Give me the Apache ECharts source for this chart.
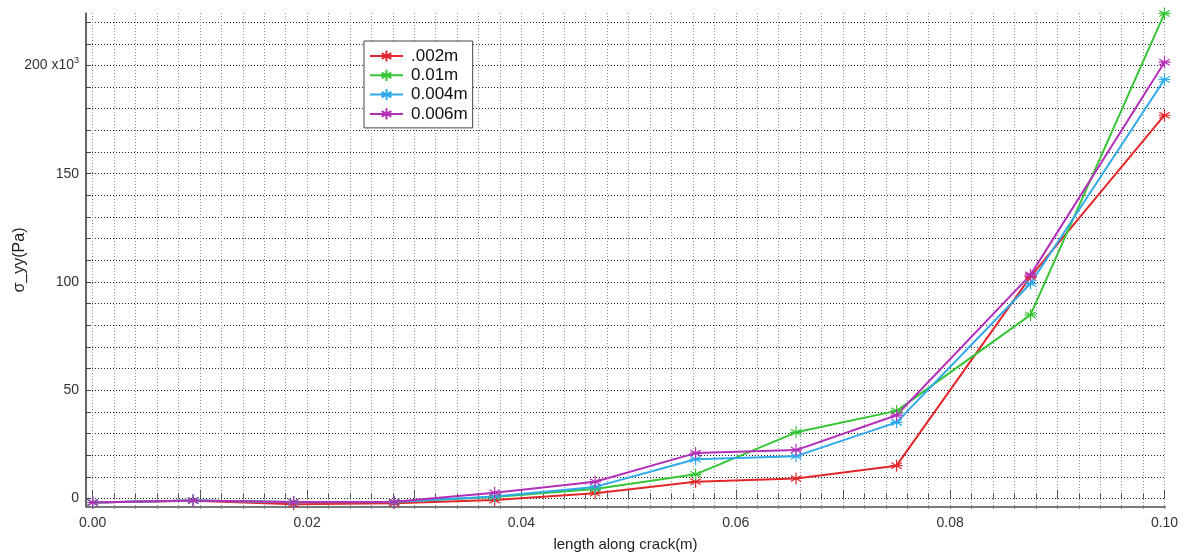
<!DOCTYPE html>
<html>
<head>
<meta charset="utf-8">
<script src="https://cdn.jsdelivr.net/npm/echarts@6/dist/echarts.min.js"></script>
<style>html,body{margin:0;padding:0;background:#fff}#c{width:1186px;height:557px}</style>
</head>
<body>
<div id="c"></div>
<script>
// length along crack (m)
const xValues = [0, 0.009375, 0.01875, 0.028125, 0.0375, 0.046875, 0.05625, 0.065625, 0.075, 0.0875, 0.1];
// sigma_yy in 10^3 Pa
const s002 = [-1.8, -1.0, -2.6, -2.2, -0.7, 2.5, 7.8, 9.3, 15.2, 102.5, 177];
const s01  = [-1.8, -0.9, -1.6, -1.5, 0.7, 4.4, 11.2, 30.6, 40.5, 84.8, 224];
const s004 = [-1.8, -0.9, -1.7, -1.6, 1.0, 5.4, 18.2, 19.6, 35.2, 99.3, 193.5];
const s006 = [-1.8, -0.9, -1.6, -1.5, 2.7, 7.8, 21.0, 22.4, 38.5, 103.3, 201.5];
const seriesNames = ['.002m', '0.01m', '0.004m', '0.006m'];
const seriesColors = ['#e3262a', '#35c535', '#2eaaea', '#b42fb8'];
const yLabelValues = [0, 50, 100, 150, 200];
const xLabelValues = ['0.00', '0.02', '0.04', '0.06', '0.08', '0.10'];

const seriesData = [s002, s01, s004, s006];
const star = 'path://M0,-10L0,10M-8.66,-5L8.66,5M-8.66,5L8.66,-5M-10,0L10,0';
const font = 'Liberation Sans, Arial, sans-serif';

const chart = echarts.init(document.getElementById('c'));
chart.setOption({
  animation: false,
  backgroundColor: '#ffffff',
  textStyle: {fontFamily: font},
  grid: [
    {left: 86, top: 13, width: 1079, height: 496, containLabel: false},
    {left: 86, top: 22.1, width: 1079, height: 476.5, containLabel: false},
    {left: 92.7, top: 13, width: 1071.8, height: 496, containLabel: false}
  ],
  legend: {
    orient: 'vertical', left: 364, top: 41,
    padding: [6, 5, 5, 5],
    itemWidth: 33, itemHeight: 14, itemGap: 1.3,
    borderColor: '#444', borderWidth: 1,
    backgroundColor: '#fff',
    data: seriesNames,
    textStyle: {fontFamily: font, fontSize: 17, color: '#111', lineHeight: 18, padding: [0, 0, 0, 3]}
  },
  xAxis: [
    {gridIndex: 0, type: 'value', min: 0, max: 1,
     axisLine: {show: true, lineStyle: {color: '#7a7a7a', width: 2}},
     axisTick: {show: false}, axisLabel: {show: false}, splitLine: {show: false},
     name: 'length along crack(m)', nameLocation: 'middle', nameGap: 30,
     nameTextStyle: {fontFamily: font, fontSize: 15, color: '#222'}},
    {gridIndex: 1, type: 'value', min: 0, max: 1, show: false},
    {gridIndex: 2, type: 'value', min: 0, max: 0.1, interval: 0.01,
     axisLine: {show: false},
     axisTick: {show: true, inside: true, length: 9, lineStyle: {color: '#555', width: 1}},
     minorTick: {show: true, splitNumber: 5, length: 5, lineStyle: {color: '#555', width: 1}},
     splitLine: {show: true, lineStyle: {color: '#8c8cb4', type: [1, 2], width: 1}},
     minorSplitLine: {show: true, lineStyle: {color: '#8c8cb4', type: [1, 2], width: 1}},
     axisLabel: {margin: 7, fontSize: 14, color: '#333', fontFamily: font,
       formatter: v => { const s = v.toFixed(2); return xLabelValues.indexOf(s) < 0 ? '' : s; }}}
  ],
  yAxis: [
    {gridIndex: 0, type: 'value', min: 0, max: 1,
     axisLine: {show: true, lineStyle: {color: '#333', width: 1.5}},
     axisTick: {show: false}, axisLabel: {show: false}, splitLine: {show: false},
     name: 'σ_yy(Pa)', nameLocation: 'middle', nameGap: 58,
     nameTextStyle: {fontFamily: font, fontSize: 16, color: '#222'}},
    {gridIndex: 1, type: 'value', min: 0, max: 220, interval: 10,
     axisLine: {show: false},
     axisTick: {show: true, inside: true, length: 5, lineStyle: {color: '#444', width: 1}},
     splitLine: {show: true, lineStyle: {color: '#222', type: [1, 2], width: 1}},
     axisLabel: {margin: 7, fontSize: 14, color: '#333', fontFamily: font,
       formatter: v => yLabelValues.indexOf(v) < 0 ? '' : (v === 200 ? '{a|200 x10}{s|3}' : String(v)),
       rich: {a: {fontSize: 14, color: '#333', fontFamily: font},
              s: {fontSize: 9, color: '#333', fontFamily: font, padding: [0, 0, 9, 0]}}}},
    {gridIndex: 2, type: 'value', min: -4.8, max: 224.2, show: false}
  ],
  series: seriesNames.map((name, i) => ({
    name: name, type: 'line', xAxisIndex: 2, yAxisIndex: 2,
    data: xValues.map((x, j) => [x, seriesData[i][j]]),
    symbol: star, symbolSize: 12, showAllSymbol: true,
    lineStyle: {color: seriesColors[i], width: 2},
    itemStyle: {color: seriesColors[i], borderColor: seriesColors[i], borderWidth: 1.2},
    emphasis: {disabled: true}
  }))
});
</script>
</body>
</html>
